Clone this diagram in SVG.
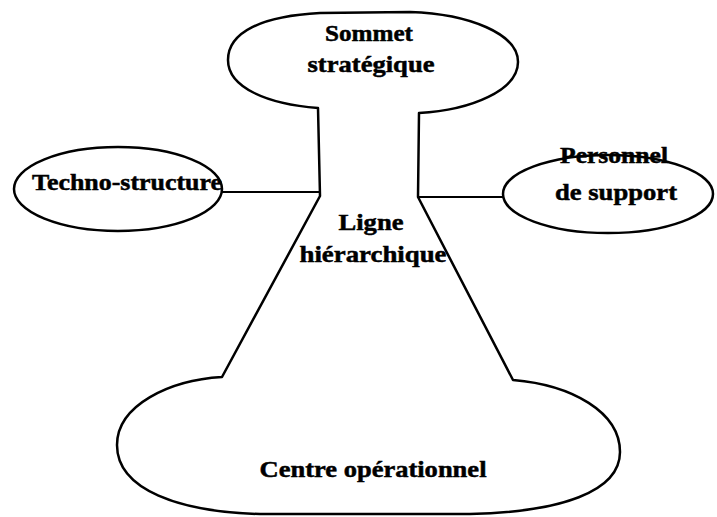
<svg xmlns="http://www.w3.org/2000/svg" width="717" height="517" viewBox="0 0 717 517">
  <style>
    .shape { fill: none; stroke: #000; stroke-width: 2.5; stroke-linejoin: round; stroke-linecap: round; }
    .link { fill: none; stroke: #000; stroke-width: 2.2; }
    .label { font-family: "Liberation Serif", "Times New Roman", serif; font-weight: bold; font-size: 24px; fill: #000; stroke: #000; stroke-width: 0.5; text-anchor: middle; }
  </style>
  <rect width="717" height="517" fill="#fff"/>

  <!-- Central body: strategic apex, middle line, operating core -->
  <g id="organisation">
    <path class="shape" d="M318,108 C268,104 228,88 228,60 C228,32 262,16 320,13 L410,12 C470,14 518,34 518,62 C518,90 472,110 419,113 L418,197 L513,380 C572,385 620,412 620,452 C620,492 560,512 470,514 L260,514 C180,512 117,490 117,445 C117,405 170,380 222,377 L320,196 Z"/>
  </g>

  <g id="sommet">
    <text class="label" x="369" y="41" textLength="88" lengthAdjust="spacingAndGlyphs">Sommet</text>
    <text class="label" x="371" y="72" textLength="127" lengthAdjust="spacingAndGlyphs">stratégique</text>
  </g>

  <g id="ligne">
    <text class="label" x="371" y="230" textLength="65" lengthAdjust="spacingAndGlyphs">Ligne</text>
    <text class="label" x="373" y="262" textLength="147" lengthAdjust="spacingAndGlyphs">hiérarchique</text>
  </g>

  <g id="centre">
    <text class="label" x="373" y="477" textLength="227" lengthAdjust="spacingAndGlyphs">Centre opérationnel</text>
  </g>

  <g id="techno">
    <ellipse class="shape" cx="118" cy="189" rx="104" ry="42"/>
    <text class="label" x="127" y="190" textLength="190" lengthAdjust="spacingAndGlyphs">Techno-structure</text>
  </g>

  <g id="support">
    <ellipse class="shape" cx="608" cy="194" rx="105" ry="39"/>
    <text class="label" x="614" y="163" textLength="108" lengthAdjust="spacingAndGlyphs">Personnel</text>
    <text class="label" x="616" y="200" textLength="122" lengthAdjust="spacingAndGlyphs">de support</text>
  </g>

  <!-- Links from the staff units to the middle line -->
  <g id="connectors">
    <line class="link" x1="222" y1="192" x2="320" y2="192"/>
    <line class="link" x1="418" y1="197" x2="503" y2="197"/>
  </g>
</svg>
